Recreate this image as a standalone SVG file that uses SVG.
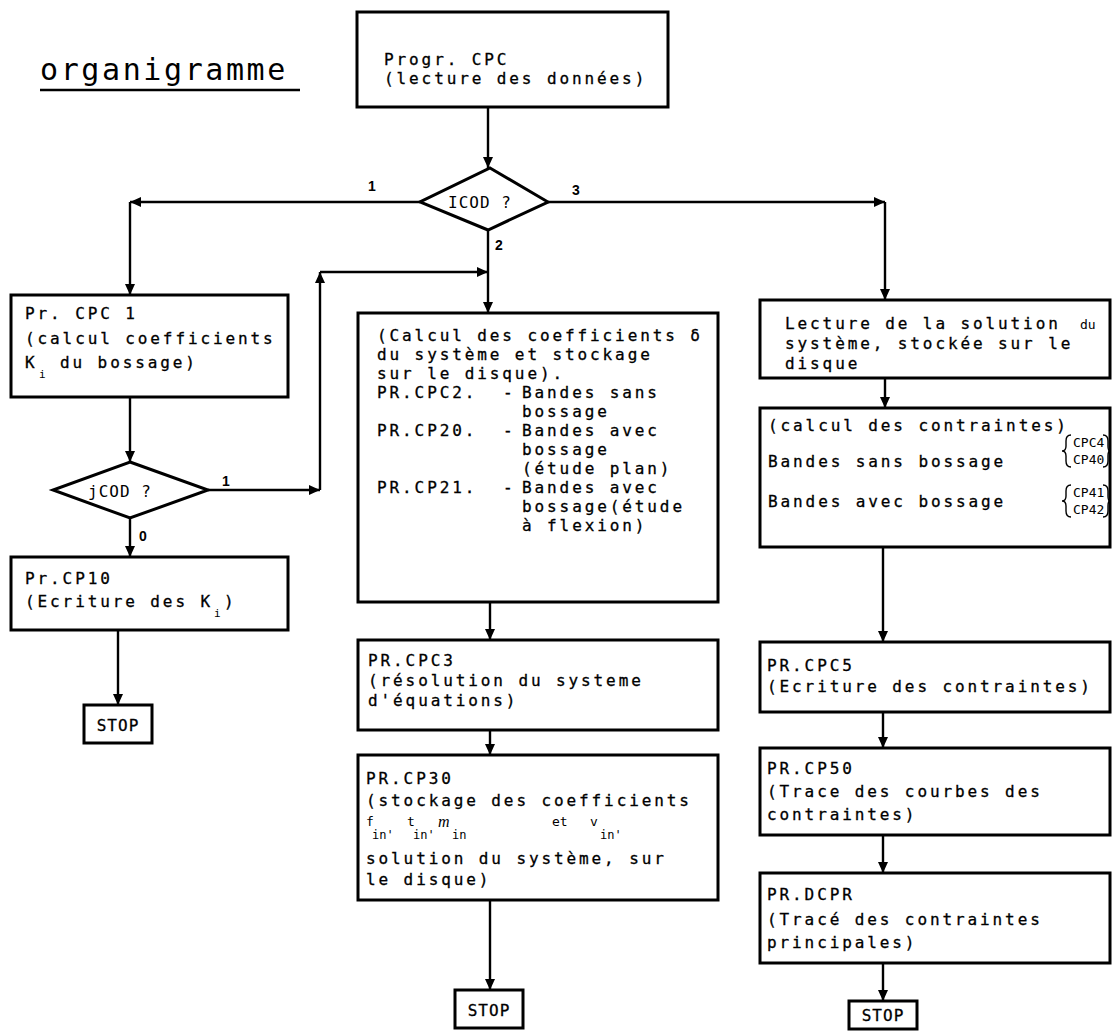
<svg xmlns="http://www.w3.org/2000/svg" width="1113" height="1031" viewBox="0 0 1113 1031">
<defs>
<marker id="ah" markerUnits="userSpaceOnUse" markerWidth="12" markerHeight="12" refX="11" refY="5" orient="auto" viewBox="0 0 12 10">
<path d="M0,0 L11,5 L0,10 z" fill="#000"/>
</marker>
</defs>
<style>
.box{fill:#fff;stroke:#000;stroke-width:3}
.dia{fill:#fff;stroke:#000;stroke-width:3}
.con{fill:none;stroke:#000;stroke-width:2.4;marker-end:url(#ah)}
.t{font-family:"DejaVu Sans Mono","Liberation Mono",monospace;font-size:16px;letter-spacing:2.9px;fill:#000;stroke:#000;stroke-width:0.3}
.s{font-family:"DejaVu Sans Mono","Liberation Mono",monospace;font-size:11px;fill:#000}
.sub{font-family:"DejaVu Sans Mono","Liberation Mono",monospace;font-size:12px;fill:#000}
.sm{font-family:"DejaVu Sans Mono","Liberation Mono",monospace;font-size:13px;fill:#000}
.lab{font-family:"Liberation Sans",Arial,sans-serif;font-size:14px;font-weight:bold;fill:#000}
.title{font-family:"DejaVu Sans Mono","Liberation Mono",monospace;font-size:30px;letter-spacing:2.6px;fill:#000}
.br{fill:none;stroke:#000;stroke-width:1.4}
</style>
<rect width="1113" height="1031" fill="#fff"/>

<g id="title">
<text class="title" x="40" y="80">organigramme</text>
<line x1="40" y1="90" x2="300" y2="90" stroke="#000" stroke-width="2.5"/>
</g>

<g id="connectors">
<path class="con" d="M488,107 V168"/>
<path class="con" d="M420,202 H130"/>
<path class="con" d="M130,202 V295"/>
<path class="con" d="M548,202 H885"/>
<path class="con" d="M885,202 V300"/>
<path class="con" d="M488,230 V313"/>
<path class="con" d="M208,490 H320"/>
<path class="con" d="M320,490 V272"/>
<path class="con" d="M320,272 H488"/>
<path class="con" d="M130,397 V462"/>
<path class="con" d="M130,518 V557"/>
<path class="con" d="M118,630 V705"/>
<path class="con" d="M490,602 V640"/>
<path class="con" d="M490,730 V755"/>
<path class="con" d="M490,900 V990"/>
<path class="con" d="M885,378 V408"/>
<path class="con" d="M883,547 V642"/>
<path class="con" d="M883,712 V748"/>
<path class="con" d="M883,835 V873"/>
<path class="con" d="M883,963 V1001"/>
<text class="lab" x="368" y="191">1</text>
<text class="lab" x="572" y="195">3</text>
<text class="lab" x="495" y="250">2</text>
<text class="lab" x="222" y="486">1</text>
<text class="lab" x="139" y="541">0</text>
</g>

<g id="start">
<rect class="box" x="357" y="12" width="311" height="95"/>
<text class="t" x="384" y="65">Progr. CPC</text>
<text class="t" x="384" y="84">(lecture des données)</text>
</g>

<g id="icod">
<polygon class="dia" points="490,168 548,202 488,230 420,202"/>
<text class="t" x="448" y="208" style="letter-spacing:1px;stroke-width:0">ICOD ?</text>
</g>

<g id="cpc1">
<rect class="box" x="11" y="295" width="277" height="102"/>
<text class="t" x="25" y="319">Pr. CPC 1</text>
<text class="t" x="25" y="344">(calcul coefficients</text>
<text class="t" x="25" y="368">K</text>
<text class="s" x="39" y="378">i</text>
<text class="t" x="60" y="368">du bossage)</text>
</g>

<g id="jcod">
<polygon class="dia" points="130,462 208,490 130,518 53,490"/>
<text class="t" x="88" y="497" style="letter-spacing:1px;stroke-width:0">jCOD ?</text>
</g>

<g id="cp10">
<rect class="box" x="11" y="557" width="277" height="73"/>
<text class="t" x="25" y="584">Pr.CP10</text>
<text class="t" x="25" y="607">(Ecriture des K</text>
<text class="s" x="214" y="617">i</text>
<text class="t" x="224" y="607">)</text>
</g>

<g id="stop1">
<rect class="box" x="84" y="705" width="68" height="38"/>
<text class="t" x="118" y="731" text-anchor="middle" style="letter-spacing:1px">STOP</text>
</g>

<g id="cpc2">
<rect class="box" x="358" y="313" width="360" height="289"/>
<text class="t" x="377" y="341">(Calcul des coefficients δ</text>
<text class="t" x="377" y="360">du système et stockage</text>
<text class="t" x="377" y="379">sur le disque).</text>
<text class="t" x="377" y="398">PR.CPC2. <tspan x="503">-</tspan><tspan x="522">Bandes sans</tspan></text>
<text class="t" x="522" y="417">bossage</text>
<text class="t" x="377" y="436">PR.CP20. <tspan x="503">-</tspan><tspan x="522">Bandes avec</tspan></text>
<text class="t" x="522" y="455">bossage</text>
<text class="t" x="522" y="474">(étude plan)</text>
<text class="t" x="377" y="493">PR.CP21. <tspan x="503">-</tspan><tspan x="522">Bandes avec</tspan></text>
<text class="t" x="522" y="512">bossage(étude</text>
<text class="t" x="522" y="531">à flexion)</text>
</g>

<g id="cpc3">
<rect class="box" x="358" y="640" width="360" height="90"/>
<text class="t" x="368" y="666">PR.CPC3</text>
<text class="t" x="368" y="686">(résolution du systeme</text>
<text class="t" x="368" y="706">d'équations)</text>
</g>

<g id="cp30">
<rect class="box" x="358" y="755" width="360" height="145"/>
<text class="t" x="366" y="784">PR.CP30</text>
<text class="t" x="366" y="806">(stockage des coefficients</text>
<text class="sm" x="366" y="826">f</text>
<text class="sub" x="372" y="839">in'</text>
<text class="sm" x="407" y="826">t</text>
<text class="sub" x="413" y="839">in'</text>
<text class="sm" x="438" y="827" style="font-family:'Liberation Serif',serif;font-style:italic;font-size:16px">m</text>
<text class="sub" x="452" y="839">in</text>
<text class="sm" x="552" y="826">et</text>
<text class="sm" x="590" y="826">v</text>
<text class="sub" x="600" y="839">in'</text>
<text class="t" x="366" y="864">solution du système, sur</text>
<text class="t" x="366" y="885">le disque)</text>
</g>

<g id="stop2">
<rect class="box" x="455" y="990" width="68" height="38"/>
<text class="t" x="489" y="1016" text-anchor="middle" style="letter-spacing:1px">STOP</text>
</g>

<g id="lecture">
<rect class="box" x="760" y="300" width="350" height="78"/>
<text class="t" x="785" y="329">Lecture de la solution</text>
<text class="sm" x="1080" y="329">du</text>
<text class="t" x="785" y="349">système, stockée sur le</text>
<text class="t" x="785" y="369">disque</text>
</g>

<g id="cpc4">
<rect class="box" x="760" y="408" width="350" height="139"/>
<text class="t" x="768" y="431">(calcul des contraintes)</text>
<text class="t" x="768" y="467">Bandes sans bossage</text>
<text class="t" x="768" y="507">Bandes avec bossage</text>
<text class="sm" x="1073" y="447">CPC4</text>
<text class="sm" x="1073" y="464">CP40</text>
<text class="sm" x="1073" y="497">CP41</text>
<text class="sm" x="1073" y="514">CP42</text>
<path class="br" d="M1071,435 Q1066,435 1066,441 V446 Q1066,451 1062,451 Q1066,451 1066,456 V461 Q1066,467 1071,467"/>
<path class="br" d="M1103,435 Q1108,435 1108,441 V446 Q1108,451 1110,451 M1108,456 Q1108,451 1110,451 M1108,456 V461 Q1108,467 1103,467"/>
<path class="br" d="M1071,485 Q1066,485 1066,491 V496 Q1066,501 1062,501 Q1066,501 1066,506 V511 Q1066,517 1071,517"/>
<path class="br" d="M1103,485 Q1108,485 1108,491 V496 Q1108,501 1110,501 M1108,506 Q1108,501 1110,501 M1108,506 V511 Q1108,517 1103,517"/>
</g>

<g id="cpc5">
<rect class="box" x="760" y="642" width="350" height="70"/>
<text class="t" x="767" y="671">PR.CPC5</text>
<text class="t" x="767" y="692">(Ecriture des contraintes)</text>
</g>

<g id="cp50">
<rect class="box" x="760" y="748" width="350" height="87"/>
<text class="t" x="767" y="774">PR.CP50</text>
<text class="t" x="767" y="797">(Trace des courbes des</text>
<text class="t" x="767" y="820">contraintes)</text>
</g>

<g id="dcpr">
<rect class="box" x="760" y="873" width="350" height="90"/>
<text class="t" x="767" y="900">PR.DCPR</text>
<text class="t" x="767" y="925">(Tracé des contraintes</text>
<text class="t" x="767" y="948">principales)</text>
</g>

<g id="stop3">
<rect class="box" x="849" y="1001" width="68" height="28"/>
<text class="t" x="883" y="1021" text-anchor="middle" style="letter-spacing:1px">STOP</text>
</g>
</svg>
